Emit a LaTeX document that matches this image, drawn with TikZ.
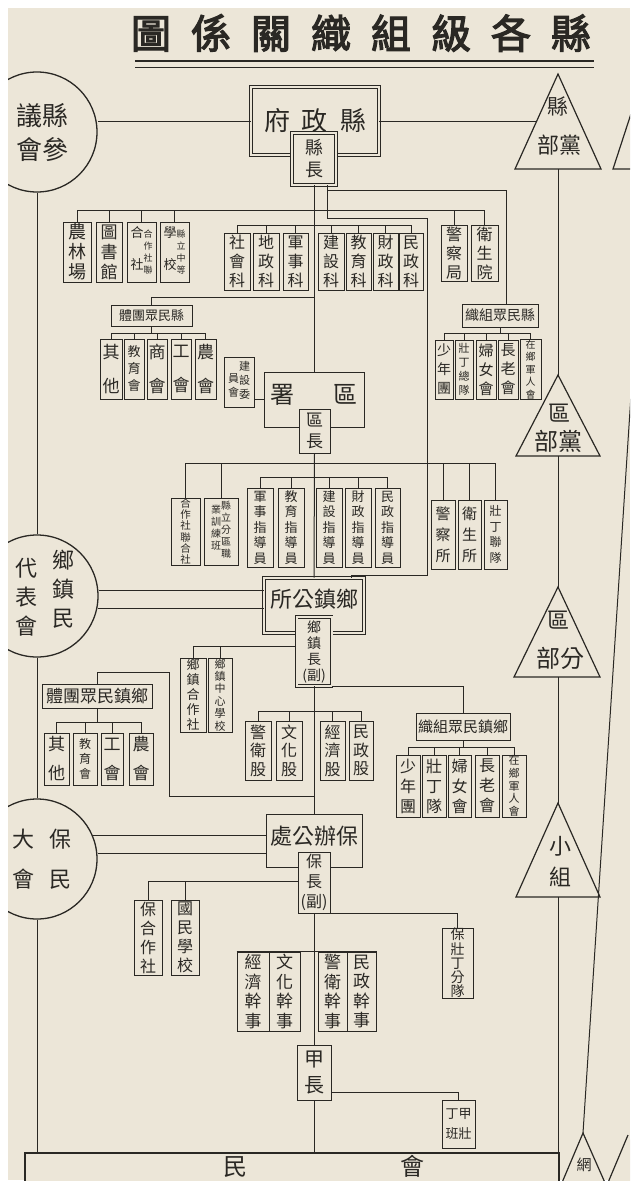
\documentclass[tikz,border=0pt]{standalone}
\usepackage{fontspec}
\newfontfamily\cjk{Noto Sans CJK TC}
\newfontfamily\cjkb{Noto Sans CJK TC}[FakeBold=3]
\usetikzlibrary{calc}
\definecolor{paper}{RGB}{236,230,216}
\definecolor{ink}{RGB}{42,40,36}
\newcommand\vcol[1]{\begin{tabular}[t]{@{}c@{}}#1\end{tabular}}
\newcommand\bx[7]{%
  \pgfmathsetmacro\bxw{#4-#2}\pgfmathsetmacro\bxh{#5-#3}%
  \pgfmathsetmacro\bxx{(#2+#4)/2}\pgfmathsetmacro\bxy{(#3+#5)/2}%
  \node[#6,minimum width=\bxw pt,minimum height=\bxh pt] (#1) at (\bxx,\bxy) {#7};}
\tikzset{
  box/.style={draw=ink, line width=1pt, fill=paper, inner sep=0pt, align=center, text=ink},
  dbox/.style={box, line width=0.8pt, double=paper, double distance=2pt},
  fz/.style 2 args={font=\cjk\fontsize{#1}{#2}\selectfont},
  con/.style={draw=ink, line width=1pt},
  circ/.style={circle, draw=ink, line width=1.3pt, fill=paper, inner sep=0pt, align=center, text=ink},
  lbl/.style={inner sep=0pt, align=center, text=ink},
  tri/.style={draw=ink, line width=1.2pt, fill=paper, line join=miter},
}
\begin{document}
\begin{tikzpicture}[x=1pt,y=-1pt]
\fill[white] (0,0) rectangle (640,1192);
\useasboundingbox (0,0) rectangle (640,1192);
\fill[paper] (8,8) rectangle (630,1180);
\begin{scope}
\clip (8,8) rectangle (630,1180);

% title
\node[lbl, font=\cjkb\fontsize{40}{40}\selectfont] (title) at (361,33)
  {圖\hspace{20pt}係\hspace{20pt}關\hspace{20pt}織\hspace{20pt}組\hspace{20pt}級\hspace{20pt}各\hspace{20pt}縣};
\draw[ink, line width=1.8pt] (135,61) -- (594,61);
\draw[ink, line width=1pt] (135,67) -- (594,67);

% ---------- county level ----------
\node[circ, minimum size=120pt, fz={26}{34}] (c1) at (37,132) {\hspace*{10pt}議縣\\\hspace*{10pt}會參};
\bx{gov}{251}{87}{379}{155}{dbox, fz={26}{26}}{府\hspace{12pt}政\hspace{12pt}縣}
\bx{xz}{292}{133}{336}{185}{dbox, fz={18}{22}}{縣\\長}

\coordinate (t1a) at (558,74); \coordinate (t1b) at (558,169); \coordinate (t1e) at (537,121);
\draw[tri] (t1a) -- (601,169) -- (515,169) -- cycle;
\node[lbl, fz={21}{21}] (t1u) at (558,106) {縣};
\node[lbl, fz={22}{22}] (t1l) at (559,145) {部黨};
\draw[tri] (642,80) -- (613,169) -- (670,169);

\bx{a1}{63}{222}{91}{282}{box, fz={18}{20}}{農\\林\\場}
\bx{a2}{96}{222}{122}{282}{box, fz={17}{20}}{圖\\書\\館}
\bx{a3}{127}{222}{156}{282}{box}{{\cjk\fontsize{13}{16}\selectfont\vcol{合\\[16pt]社}}{\cjk\fontsize{9}{12}\selectfont\vcol{合\\作\\社\\聯}}}
\bx{a4}{160}{222}{189}{282}{box}{{\cjk\fontsize{13}{16}\selectfont\vcol{學\\[16pt]校}}{\cjk\fontsize{9}{12}\selectfont\vcol{縣\\立\\中\\等}}}
\bx{a5}{441}{225}{467}{281}{box, fz={16}{19}}{警\\察\\局}
\bx{a6}{471}{225}{498}{281}{box, fz={16}{19}}{衛\\生\\院}

\bx{k1}{224}{233}{250}{290}{box, fz={16}{19}}{社\\會\\科}
\bx{k2}{253}{233}{279}{290}{box, fz={16}{19}}{地\\政\\科}
\bx{k3}{283}{233}{308}{290}{box, fz={16}{19}}{軍\\事\\科}
\bx{k4}{318}{233}{344}{290}{box, fz={16}{19}}{建\\設\\科}
\bx{k5}{346}{233}{371}{290}{box, fz={16}{19}}{教\\育\\科}
\bx{k6}{373}{233}{398}{290}{box, fz={16}{19}}{財\\政\\科}
\bx{k7}{399}{233}{423}{290}{box, fz={16}{19}}{民\\政\\科}

\bx{tt}{111}{305}{192}{326}{box, fz={13}{13}}{體團眾民縣}
\bx{tt1}{100}{339}{122}{399}{box, fz={17}{34}}{其\\他}
\bx{tt2}{124}{339}{144}{399}{box, fz={13}{17}}{教\\育\\會}
\bx{tt3}{147}{339}{167}{399}{box, fz={17}{34}}{商\\會}
\bx{tt4}{171}{339}{191}{399}{box, fz={17}{34}}{工\\會}
\bx{tt5}{195}{339}{216}{399}{box, fz={17}{34}}{農\\會}

\bx{zz}{462}{304}{538}{327}{box, fz={14}{14}}{織組眾民縣}
\bx{zz1}{435}{340}{453}{399}{box, fz={14}{19}}{少\\年\\團}
\bx{zz2}{455}{340}{473}{399}{box, fz={11}{14}}{壯\\丁\\總\\隊}
\bx{zz3}{476}{340}{496}{399}{box, fz={15}{19}}{婦\\女\\會}
\bx{zz4}{498}{340}{518}{399}{box, fz={15}{19}}{長\\老\\會}
\bx{zz5}{520}{340}{541}{399}{box, fz={10}{12.5}}{在\\鄉\\軍\\人\\會}

% ---------- district level ----------
\bx{jw}{224}{357}{254}{407}{box}{{\cjk\fontsize{11}{14}\selectfont\raisebox{-12pt}{\vcol{員\\會}}\vcol{建\\設\\委}}}
\bx{qs}{264}{372}{364}{427}{box, fz={24}{24}, text depth=12pt}{署\hspace{40pt}區}
\bx{qz}{299}{409}{330}{453}{box, fz={17}{21}}{區\\長}

\coordinate (t2a) at (558,375); \coordinate (t2b) at (558,456);
\draw[tri] (t2a) -- (600,456) -- (516,456) -- cycle;
\node[lbl, fz={22}{22}] (t2u) at (559,413) {區};
\node[lbl, fz={24}{24}] (t2l) at (558,441) {部黨};

\bx{q1}{171}{498}{200}{565}{box, fz={10.5}{11.2}}{合\\作\\社\\聯\\合\\社}
\bx{q2}{204}{498}{238}{565}{box}{{\cjk\fontsize{10}{12}\selectfont\raisebox{-4pt}{\vcol{業\\訓\\練\\班}}\vcol{縣\\立\\分\\區\\職}}}
\bx{d1}{247}{488}{273}{567}{box, fz={13}{15.5}}{軍\\事\\指\\導\\員}
\bx{d2}{278}{488}{304}{567}{box, fz={13}{15.5}}{教\\育\\指\\導\\員}
\bx{d3}{316}{488}{342}{567}{box, fz={13}{15.5}}{建\\設\\指\\導\\員}
\bx{d4}{345}{488}{371}{567}{box, fz={13}{15.5}}{財\\政\\指\\導\\員}
\bx{d5}{375}{488}{400}{567}{box, fz={13}{15.5}}{民\\政\\指\\導\\員}
\bx{q3}{431}{500}{455}{569}{box, fz={15}{21}}{警\\察\\所}
\bx{q4}{458}{500}{481}{569}{box, fz={15}{21}}{衛\\生\\所}
\bx{q5}{484}{500}{507}{569}{box, fz={12}{15.5}}{壯\\丁\\聯\\隊}

% ---------- township level ----------
\node[circ, minimum size=122pt, fz={22}{29}] (c2) at (37,596)
  {\hspace*{16pt}\vcol{代\\表\\會}\hspace{14pt}\raisebox{8pt}{\vcol{鄉\\鎮\\民}}};
\bx{xg}{264}{578}{364}{633}{dbox, fz={22}{22}, text depth=14pt}{所公鎮鄉}
\bx{xgz}{296.5}{617}{331.5}{686}{dbox, fz={14}{16}}{鄉\\鎮\\長\\(副)}

\coordinate (t3a) at (558,587); \coordinate (t3b) at (558,677);
\draw[tri] (t3a) -- (600,677) -- (514,677) -- cycle;
\node[lbl, fz={22}{22}] (t3u) at (558,620) {區};
\node[lbl, fz={24}{24}] (t3l) at (560,658) {部分};

\bx{x1}{180}{658}{206}{732}{box, fz={13}{15}}{鄉\\鎮\\合\\作\\社}
\bx{x2}{208}{658}{232}{732}{box, fz={11}{12.4}}{鄉\\鎮\\中\\心\\學\\校}
\bx{xt}{42}{684}{152}{708}{box, fz={17}{17}}{體團眾民鎮鄉}
\bx{xt1}{44}{733}{69}{785}{box, fz={17}{29}}{其\\他}
\bx{xt2}{73}{733}{97}{785}{box, fz={12}{15}}{教\\育\\會}
\bx{xt3}{101}{733}{123}{785}{box, fz={17}{29}}{工\\會}
\bx{xt4}{129}{733}{153}{785}{box, fz={17}{29}}{農\\會}
\bx{g1}{245}{721}{271}{780}{box, fz={16}{18.5}}{警\\衛\\股}
\bx{g2}{276}{721}{302}{780}{box, fz={16}{18.5}}{文\\化\\股}
\bx{g3}{320}{721}{345}{780}{box, fz={16}{18.5}}{經\\濟\\股}
\bx{g4}{349}{721}{373}{780}{box, fz={16}{18.5}}{民\\政\\股}
\bx{xo}{416}{713}{510}{740}{box, fz={15}{15}}{織組眾民鎮鄉}
\bx{xo1}{396}{755}{420}{817}{box, fz={16}{20}}{少\\年\\團}
\bx{xo2}{422}{755}{446}{817}{box, fz={16}{20}}{壯\\丁\\隊}
\bx{xo3}{448}{755}{471}{817}{box, fz={16}{20}}{婦\\女\\會}
\bx{xo4}{475}{755}{499}{817}{box, fz={16}{20}}{長\\老\\會}
\bx{xo5}{502}{755}{526}{817}{box, fz={11}{12.8}}{在\\鄉\\軍\\人\\會}

% ---------- bao level ----------
\node[circ, minimum size=120pt, fz={22}{40}] (c3) at (37,859)
  {\hspace*{10pt}大\hspace{16pt}保\\\hspace*{10pt}會\hspace{16pt}民};
\bx{bb}{266}{814}{362}{867}{box, fz={22}{22}, text depth=10pt}{處公辦保}
\bx{bz}{298}{852}{330}{913}{box, fz={16}{20}}{保\\長\\(副)}

\coordinate (t4a) at (558,803); \coordinate (t4b) at (558,897);
\draw[tri] (t4a) -- (600,897) -- (516,897) -- cycle;
\node[lbl, fz={22}{22}] (t4u) at (560,846) {小};
\node[lbl, fz={22}{22}] (t4l) at (560,877) {組};

\bx{b1}{134}{900}{162}{975}{box, fz={16}{19}}{保\\合\\作\\社}
\bx{b2}{171}{900}{199}{975}{box, fz={16}{19}}{國\\民\\學\\校}
\bx{b3}{442}{928}{473}{998}{box, fz={14}{14.2}}{保\\壯\\丁\\分\\隊}
\bx{h1}{237}{952}{269}{1031}{box, fz={17}{19.5}}{經\\濟\\幹\\事}
\bx{h2}{269}{952}{300}{1031}{box, fz={17}{19.5}}{文\\化\\幹\\事}
\bx{h3}{318}{952}{347}{1031}{box, fz={17}{19.5}}{警\\衛\\幹\\事}
\bx{h4}{347}{952}{376}{1031}{box, fz={17}{19.5}}{民\\政\\幹\\事}
\bx{jz}{297}{1045}{331}{1100}{box, fz={20}{26}}{甲\\長}
\bx{jb}{442}{1100}{475}{1148}{box}{{\cjk\fontsize{13}{20}\selectfont\vcol{丁\\班}\vcol{甲\\壯}}}
\bx{mh}{25}{1153}{559}{1200}{box, line width=1.2pt, fz={24}{24}, text depth=22pt}{\hspace*{63pt}民\hspace{153pt}會}

\coordinate (w1a) at (583,1133);
\draw[tri] (w1a) -- (606,1185) -- (561,1185) -- cycle;
\node[lbl, fz={15}{15}] (w1t) at (584,1165) {網};
\draw[tri] (628,1135) -- (607,1185) -- (650,1185);
\coordinate (rtop) at (631,395);

% ---------- connectors ----------
\draw[con] (gov.west) -- (gov.west -| c1.east);
\draw[con] (gov.east) -- (t1e);
\draw[con] (c1.south) -- (c2.north);
\draw[con] (c2.south) -- (c3.north);
\draw[con] (c3.south) -- (c3.south |- mh.north);
\draw[con] (t1b) -- (t2a);
\draw[con] (t2b) -- (t3a);
\draw[con] (t3b) -- (t4a);
\draw[con] (t4b) -- (t4b |- mh.north);
\draw[con] (rtop) -- (w1a);

% trunk
\draw[con] (xz.south) -- (qs.north);
\draw[con] (qz.south) -- (xg.north);
\draw[con] (xgz.south) -- (bb.north);
\draw[con] (bz.south) -- (jz.north);
\draw[con] (jz.south) -- (jz.south |- mh.north);

% county buses
\coordinate (busA) at (0,210);
\draw[con] (a1.north) -- (a1.north |- busA) -- (a6.north |- busA) -- (a6.north);
\foreach \n in {a2,a3,a4,a5} \draw[con] (\n.north) -- (\n.north |- busA);
\coordinate (xzR) at ($(xz.south)+(13,0)$);
\coordinate (kA) at (427,218);
\coordinate (kB) at (351,575);
\draw[con] (xzR) |- (kA) |- (kB) -- (kB |- xg.north);
\draw[con] ($(xzR)+(0,5)$) -| ($(zz.north)+(6,0)$);
\coordinate (busK) at (0,225);
\draw[con] (k1.north |- busK) -- (k7.north |- busK);
\foreach \n in {k1,k2,k3,k4,k5,k6,k7} \draw[con] (\n.north) -- (\n.north |- busK);
\coordinate (busT) at (0,297);
\draw[con] (tt.north) |- (xz.south |- busT);
\coordinate (busT2) at (0,333);
\draw[con] (tt.south) -- (tt.south |- busT2);
\draw[con] (tt1.north |- busT2) -- (tt5.north |- busT2);
\foreach \n in {tt1,tt2,tt3,tt4,tt5} \draw[con] (\n.north) -- (\n.north |- busT2);
\draw[con] (zz.south) -- (zz.south |- busT2);
\draw[con] (zz1.north |- busT2) -- (zz5.north |- busT2);
\foreach \n in {zz1,zz2,zz3,zz4,zz5} \draw[con] (\n.north) -- (\n.north |- busT2);

% district
\draw[con] (qs.west) -- (qs.west -| jw.east);
\coordinate (busQ) at (0,463);
\draw[con] (q1.north |- busQ) -- (q5.north |- busQ);
\foreach \n in {q1,q2,q3,q4,q5} \draw[con] (\n.north) -- (\n.north |- busQ);
\coordinate (busD) at (0,477);
\draw[con] (d1.north |- busD) -- (d5.north |- busD);
\foreach \n in {d1,d2,d3,d4,d5} \draw[con] (\n.north) -- (\n.north |- busD);

% township
\draw[con] ($(c2.east)+(0,-6)$) -- ($(xg.west)+(0,-15.5)$);
\draw[con] ($(c2.east)+(-1,12)$) -- ($(xg.west)+(0,2.5)$);
\coordinate (busX) at (0,646);
\draw[con] (xgz.west |- busX) -- (x1.north |- busX);
\foreach \n in {x1,x2} \draw[con] (\n.north) -- (\n.north |- busX);
\draw[con] (xgz.south east) -| (xo.north);
\coordinate (xtA) at (97,672);
\coordinate (xtB) at (169,796);
\draw[con] (xt.north) -- (xtA) -| (xtB) -- (xtB -| xgz.south);
\coordinate (busXT) at (0,722);
\draw[con] (xt.south) -- (xt.south |- busXT);
\draw[con] (xt1.north |- busXT) -- (xt4.north |- busXT);
\foreach \n in {xt1,xt2,xt3,xt4} \draw[con] (\n.north) -- (\n.north |- busXT);
\coordinate (busG) at (0,711);
\draw[con] (g1.north |- busG) -- (g4.north |- busG);
\foreach \n in {g1,g2,g3,g4} \draw[con] (\n.north) -- (\n.north |- busG);
\coordinate (busXO) at (0,747);
\draw[con] (xo.south) -- (xo.south |- busXO);
\draw[con] (xo1.north |- busXO) -- (xo5.north |- busXO);
\foreach \n in {xo1,xo2,xo3,xo4,xo5} \draw[con] (\n.north) -- (\n.north |- busXO);

% bao
\draw[con] ($(c3.east)+(-5,-24)$) -- ($(bb.west)+(0,-5.5)$);
\draw[con] ($(c3.east)+(0,-6)$) -- ($(bb.west)+(0,12.5)$);
\coordinate (busB) at (0,881);
\draw[con] (bz.west |- busB) -- (b1.north |- busB);
\foreach \n in {b1,b2} \draw[con] (\n.north) -- (\n.north |- busB);
\draw[con] (bz.south east) -| (b3.north);
\draw[con] (h1.north west) -- (h4.north east);
\draw[con] ($(jz.south east)+(0,-8)$) -| (jb.north);
\end{scope}
\end{tikzpicture}
\end{document}
